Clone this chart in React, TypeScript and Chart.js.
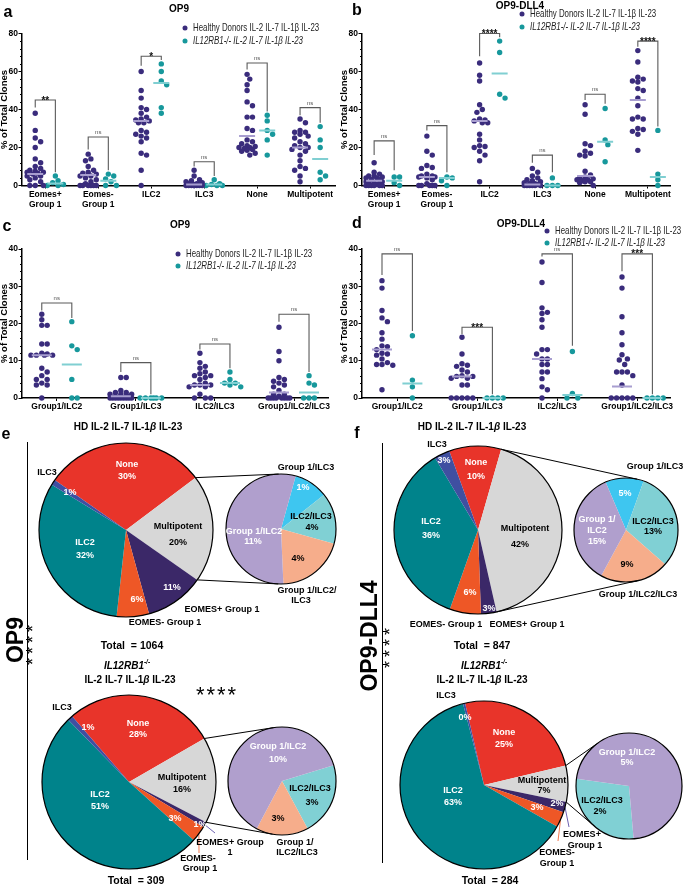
import React, { useEffect, useRef } from "react";
import { Chart, registerables } from "chart.js";
Chart.register(...registerables);

const FONT = "'Liberation Sans', Arial, Helvetica, sans-serif";
const HD_COLOR = "#3a2c7c";
const KO_COLOR = "#17989c";
const HD_MED = "#a89ed0";
const KO_MED = "#80cfd2";
const LEG_HD = "Healthy Donors IL-2 IL-7 IL-1β IL-23";
const LEG_KO = "IL12RB1-/- IL-2 IL-7 IL-1β IL-23";

// ---------------- panel a : OP9 ----------------
const A_CATS: any[] = [["Eomes+", "Group 1"], ["Eomes-", "Group 1"], "ILC2", "ILC3", "None", "Multipotent"];
const A_HD = [
  [38, 29, 25, 23, 20, 14, 12, 10, 9, 8, 7.5, 7, 7, 6.5, 6, 5, 5, 4, 3, 2, 0, 0, 0],
  [16.5, 14, 13, 10, 8, 7, 6.5, 6, 5, 5, 4, 3, 2, 1, 0, 0, 0, 0, 0, 0],
  [60, 50, 46, 41, 40, 38, 36, 35, 34.5, 34, 33, 33, 29, 28, 27, 26, 25, 23, 17, 16, 8, 0],
  [8, 5, 3, 2.5, 2, 1.5, 1, 1, 0.5, 0.5, 0, 0, 0, 0, 0, 0, 0, 0, 0],
  [58.5, 56, 53, 50, 44, 42, 36, 36, 30, 29, 24, 23, 22, 21, 20.5, 20, 20, 19.5, 19, 18.5, 18, 17, 16],
  [35, 33, 29, 28, 28, 27, 26, 25, 23, 22, 21, 20, 20, 19, 18, 16, 13, 10, 9, 8, 5, 2],
];
const A_KO = [
  [5, 2.5, 1.5, 0.5, 0, 0],
  [6, 5, 3.5, 2, 0, 0],
  [64, 60, 55, 53, 41, 38],
  [3, 1, 0.5, 0, 0, 0],
  [37, 34, 29, 27, 24, 16],
  [31, 24, 20, 7, 5, 3],
];
const A_HD_MED = [6, 5.5, 34, 0.5, 26, 20];
const A_KO_MED = [1, 2.5, 54, 0.5, 29, 14];
const A_SIG = ["**", "ns", "*", "ns", "ns", "ns"];
const A_BR_TOP = [45, 25.5, 68, 12.5, 64.5, 41];
const A_BR_L = [41, 19, 63, 10, 61, 37];
const A_BR_R = [7, 8, 66, 5, 39, 33];

// ---------------- panel b : OP9-DLL4 ----------------
const B_CATS = A_CATS;
const B_HD = [
  [12, 7, 6, 5, 5, 4.5, 4, 4, 3, 3, 2, 2, 1.5, 1, 1, 0.5, 0, 0, 0, 0, 0, 0],
  [26, 18, 16, 10.5, 9.5, 9, 6, 5, 5, 4.5, 4.5, 4, 3, 1, 0, 0, 0, 0, 0],
  [64.5, 58, 55, 42.5, 40, 38.5, 35, 34.5, 34, 33, 33, 27, 24, 21, 20.5, 20, 18, 16, 13, 2],
  [9, 7, 5, 4, 3, 2.5, 2, 1.5, 1, 1, 0.5, 0.5, 0, 0, 0, 0, 0, 0],
  [42.5, 37.5, 22, 21, 18, 17, 16, 15.5, 7.5, 5.5, 4.5, 4, 3.5, 3, 3, 2.5, 2, 2, 1.5, 0],
  [71, 65, 57, 56, 55, 54.5, 51, 50, 46, 42, 36, 35, 35, 30, 29.5, 28.5, 27, 18.5],
];
const B_KO = [
  [4.5, 4.5, 1.5, 0],
  [4.5, 4, 2.5, 0],
  [76, 70, 48, 46],
  [4, 0, 0, 0],
  [40.5, 24, 21.5, 12.5],
  [29, 6, 3, 0],
];
const B_HD_MED = [2.5, 4.5, 34, 0.5, 5, 45];
const B_KO_MED = [2.5, 4, 59, 0, 23, 4.5];
const B_SIG = ["ns", "ns", "****", "ns", "ns", "****"];
const B_BR_TOP = [23.5, 31.5, 80, 16, 48, 76];
const B_BR_L = [16, 29, 68, 12, 45, 73];
const B_BR_R = [8, 7, 78, 7, 43, 31];

// ---------------- panel c : OP9 ----------------
const C_CATS: any[] = ["Group1/ILC2", "Group1/ILC3", "ILC2/ILC3", "Group1/ILC2/ILC3"];
const C_HD = [
  [22.5, 21, 19.5, 19.5, 14.5, 14.5, 12, 11.8, 11.5, 11.5, 11.5, 11.5, 8, 7, 6, 5, 5, 4, 3.5, 3.5, 0],
  [5.5, 5.5, 2, 1.5, 1.5, 1, 1, 1, 0.5, 0.5, 0.5, 0, 0, 0, 0, 0, 0, 0, 0, 0],
  [12, 9.5, 8.5, 8, 7, 6.5, 6, 6, 5.5, 5, 4, 3.5, 3.5, 3.5, 3, 3, 1, 0, 0, 0],
  [19, 12.5, 10, 5.5, 5, 4.5, 4, 3.5, 3, 2, 1, 1, 0.5, 0, 0, 0, 0, 0, 0, 0, 0],
];
const C_KO = [
  [20.5, 14, 13, 5, 0, 0],
  [0, 0, 0, 0, 0, 0],
  [7, 5, 4, 4, 3.5, 3],
  [6, 4, 3.5, 0, 0, 0],
];
const C_HD_MED = [11.5, 0.5, 3.5, 1.5];
const C_KO_MED = [9, 0, 4, 1.5];
const C_SIG = ["ns", "ns", "ns", "ns"];
const C_BR_TOP = [25.5, 9.5, 14.5, 22.5];
const C_BR_L = [23.5, 7, 13, 20.5];
const C_BR_R = [21.5, 1, 8, 7];

// ---------------- panel d : OP9-DLL4 ----------------
const D_CATS = C_CATS;
const D_HD = [
  [31.5, 29.5, 23.5, 21.5, 20.5, 17.5, 15.8, 14, 13.8, 13, 12, 11.8, 11.5, 10.5, 9.5, 9, 9, 8.8, 2.2],
  [16.3, 11.8, 9.2, 8.8, 8.5, 7.5, 7, 6, 5.8, 5.8, 5.3, 5.3, 3.5, 3.5, 0, 0, 0, 0, 0],
  [36.5, 31, 24.2, 23, 22.7, 21, 19, 13, 13, 11.8, 10.5, 10.5, 9, 9, 7, 7, 5.2, 3, 2.2, 0],
  [32.5, 29.5, 21.8, 17.5, 14.3, 11.6, 10.5, 10.2, 9, 7, 7, 7, 6, 3.5, 0, 0, 0, 0, 0],
];
const D_KO = [
  [16.7, 4.8, 3, 0],
  [0, 0, 0, 0],
  [12.5, 1.2, 0, 0],
  [0, 0, 0, 0],
];
const D_HD_MED = [13, 5.8, 10.5, 3.1];
const D_KO_MED = [3.9, 0, 0.8, 0];
const D_SIG = ["ns", "***", "ns", "***"];
const D_BR_TOP = [38.7, 19, 38.7, 38.7];
const D_BR_L = [33, 17.2, 38, 34];
const D_BR_R = [18, 1, 14, 1];

// ---------------- pies ----------------
const BIG_NAMES = ["None", "Multipotent", "EOMES+ Group 1", "EOMES- Group 1", "ILC2", "ILC3"];
const E_TOP_PCT = [30, 20, 11, 6, 32, 1];
const E_TOP_SUB_NAMES = ["Group 1/ILC3", "ILC2/ILC3", "Group 1/ILC2/ILC3", "Group 1/ILC2"];
const E_TOP_SUB_PCT = [1, 4, 4, 11];
const E_TOP_SUB_SIZE = [2, 3, 4, 11];

const E_BOT_PCT = [28, 16, 1, 3, 51, 1];
const E_BOT_SUB_NAMES = ["ILC2/ILC3", "Group 1/ILC2/ILC3", "Group 1/ILC2"];
const E_BOT_SUB_PCT = [3, 3, 10];
const E_BOT_SUB_SIZE = [3.5, 2.5, 10];

const F_TOP_PCT = [10, 42, 3, 6, 36, 3];
const F_TOP_SUB_NAMES = ["Group 1/ILC3", "ILC2/ILC3", "Group 1/ILC2/ILC3", "Group 1/ILC2"];
const F_TOP_SUB_PCT = [5, 13, 9, 15];

const F_BOT_PCT = [25, 7, 2, 3, 63, 0];
const F_BOT_SIZE = [25, 7, 2, 3, 63, 0.4];
const F_BOT_SUB_NAMES = ["ILC2/ILC3", "Group 1/ILC2"];
const F_BOT_SUB_PCT = [2, 5];

const TOTALS = [1064, 309, 847, 284];

const COLORS: Record<string, string> = {
  "None": "#e8342a",
  "Multipotent": "#d7d7d7",
  "EOMES+ Group 1": "#3b2868",
  "EOMES- Group 1": "#ee5726",
  "ILC2": "#00838b",
  "ILC3": "#3f4fa1",
  "Group 1/ILC2": "#b09fcd",
  "Group 1/ILC3": "#3ec6f0",
  "ILC2/ILC3": "#80d0d4",
  "Group 1/ILC2/ILC3": "#f6ad8b",
};

const DOT_R = 2.7;

function swarm(vals: number[], pxX: number, pxY: number, d: number, maxW: number): number[] {
  const order = vals.map((_, i) => i).sort((a, b) => vals[b] - vals[a]);
  const placed: number[][] = [];
  const out = vals.map(() => 0);
  const h = d / 2;
  for (const i of order) {
    const y = vals[i] * pxY;
    let best = 0;
    let bestScore = -1;
    for (let k = 0; k < 200; k++) {
      const m = Math.ceil(k / 2) * (k % 2 ? 1 : -1);
      const c = m * h;
      if (Math.abs(c) > maxW) break;
      let md = Infinity;
      for (const p of placed) md = Math.min(md, Math.hypot(p[0] - c, p[1] - y));
      if (md >= d * 0.97) { best = c; break; }
      if (md > bestScore) { bestScore = md; best = c; }
    }
    placed.push([best, y]);
    out[i] = best / pxX;
  }
  return out;
}

type Spec = any;

const SPECS: Spec[] = [
  { cats: A_CATS, hd: A_HD, ko: A_KO, hdMed: A_HD_MED, koMed: A_KO_MED, sig: A_SIG, brTop: A_BR_TOP, brL: A_BR_L, brR: A_BR_R,
    ymax: 80, major: 20, minor: 4, xmin: -0.44, xmax: 5.47, off: 0.19,
    canvas: { l: 0, t: 0, w: 340, h: 212 }, area: { l: 22, r: 335, t: 33.5, b: 185.5 }, legend: { x: 185, y1: 28, y2: 41 }, medHalf: 8, swarmMax: 9 },
  { cats: B_CATS, hd: B_HD, ko: B_KO, hdMed: B_HD_MED, koMed: B_KO_MED, sig: B_SIG, brTop: B_BR_TOP, brL: B_BR_L, brR: B_BR_R,
    ymax: 80, major: 20, minor: 4, xmin: -0.42, xmax: 5.42, off: 0.19,
    canvas: { l: 340, t: 0, w: 345, h: 212 }, area: { l: 22, r: 330, t: 33.5, b: 185.5 }, legend: { x: 182, y1: 14, y2: 27 }, medHalf: 8, swarmMax: 9 },
  { cats: C_CATS, hd: C_HD, ko: C_KO, hdMed: C_HD_MED, koMed: C_KO_MED, sig: C_SIG, brTop: C_BR_TOP, brL: C_BR_L, brR: C_BR_R,
    ymax: 40, major: 10, minor: 2, xmin: -0.44, xmax: 3.43, off: 0.19,
    canvas: { l: 0, t: 212, w: 340, h: 200 }, area: { l: 22, r: 328, t: 37, b: 186 }, legend: { x: 178, y1: 42, y2: 54 }, medHalf: 10, swarmMax: 12 },
  { cats: D_CATS, hd: D_HD, ko: D_KO, hdMed: D_HD_MED, koMed: D_KO_MED, sig: D_SIG, brTop: D_BR_TOP, brL: D_BR_L, brR: D_BR_R,
    ymax: 40, major: 10, minor: 2, xmin: -0.44, xmax: 3.41, off: 0.19,
    canvas: { l: 340, t: 212, w: 345, h: 200 }, area: { l: 22, r: 330, t: 37, b: 186 }, legend: { x: 207, y1: 19, y2: 31 }, medHalf: 10, swarmMax: 12 },
];

function makeScatter(cv: HTMLCanvasElement, sp: Spec) {
  const { area, canvas } = sp;
  const pxX = (area.r - area.l) / (sp.xmax - sp.xmin);
  const pxY = (area.b - area.t) / sp.ymax;
  const pts = (groups: number[][], sign: number) => {
    const out: any[] = [];
    groups.forEach((vals, i) => {
      const offs = swarm(vals, pxX, pxY, DOT_R * 2, sp.swarmMax);
      vals.forEach((v, j) => out.push({ x: i + sign * sp.off + offs[j], y: v }));
    });
    return out;
  };
  const meds = (m: number[], sign: number) => {
    const out: any[] = [];
    const hw = sp.medHalf / pxX;
    m.forEach((v, i) => {
      const c = i + sign * sp.off;
      out.push({ x: c - hw, y: v }, { x: c + hw, y: v }, { x: c + hw, y: null });
    });
    return out;
  };
  const decor = {
    id: "decor",
    afterDatasetsDraw(chart: any) {
      const ctx = chart.ctx;
      const xs = chart.scales.x;
      const ys = chart.scales.y;
      const left = chart.chartArea.left;
      ctx.save();
      ctx.strokeStyle = "#000";
      ctx.lineWidth = 1;
      for (let v = 0; v <= sp.ymax + 1e-9; v += sp.minor) {
        const q = v / sp.major;
        if (Math.abs(q - Math.round(q)) < 1e-6) continue;
        const y = Math.round(ys.getPixelForValue(v)) + 0.5;
        ctx.beginPath();
        ctx.moveTo(left - 2, y);
        ctx.lineTo(left, y);
        ctx.stroke();
      }
      ctx.strokeStyle = "#5a5a5a";
      ctx.lineWidth = 1.1;
      sp.sig.forEach((lab: string, i: number) => {
        const xl = xs.getPixelForValue(i - sp.off);
        const xr = xs.getPixelForValue(i + sp.off);
        const yt = ys.getPixelForValue(sp.brTop[i]);
        ctx.beginPath();
        ctx.moveTo(xl, ys.getPixelForValue(sp.brL[i]));
        ctx.lineTo(xl, yt);
        ctx.lineTo(xr, yt);
        ctx.lineTo(xr, ys.getPixelForValue(sp.brR[i]));
        ctx.stroke();
        ctx.textAlign = "center";
        ctx.textBaseline = "alphabetic";
        if (lab === "ns") {
          ctx.fillStyle = "#555";
          ctx.font = `6px ${FONT}`;
          ctx.fillText(lab, (xl + xr) / 2, yt - 3);
        } else {
          ctx.fillStyle = "#111";
          ctx.font = `bold 10px ${FONT}`;
          ctx.fillText(lab, (xl + xr) / 2, yt + 3.5);
        }
      });
      const L = sp.legend;
      const rows = [
        { y: L.y1, c: HD_COLOR, t: LEG_HD, it: false },
        { y: L.y2, c: KO_COLOR, t: LEG_KO, it: true },
      ];
      rows.forEach((r) => {
        ctx.fillStyle = r.c;
        ctx.beginPath();
        ctx.arc(L.x, r.y, 2.5, 0, Math.PI * 2);
        ctx.fill();
        ctx.save();
        ctx.translate(L.x + 8, r.y);
        ctx.scale(0.75, 1);
        ctx.font = `${r.it ? "italic " : ""}10.5px ${FONT}`;
        ctx.textAlign = "left";
        ctx.textBaseline = "middle";
        ctx.fillStyle = "#222";
        ctx.fillText(r.t, 0, 0);
        ctx.restore();
      });
      ctx.restore();
    },
  };
  const tickFont = { family: FONT, size: 8.5, weight: "bold" as any };
  return new Chart(cv, {
    type: "scatter",
    data: {
      datasets: [
        { type: "line", data: meds(sp.hdMed, -1), borderColor: HD_MED, borderWidth: 2, pointRadius: 0, pointHitRadius: 0, clip: false, order: 0, spanGaps: false } as any,
        { type: "line", data: meds(sp.koMed, 1), borderColor: KO_MED, borderWidth: 2, pointRadius: 0, pointHitRadius: 0, clip: false, order: 0, spanGaps: false } as any,
        { data: pts(sp.hd, -1), pointBackgroundColor: HD_COLOR, backgroundColor: HD_COLOR, pointRadius: DOT_R, pointBorderWidth: 0, clip: false, order: 1 } as any,
        { data: pts(sp.ko, 1), pointBackgroundColor: KO_COLOR, backgroundColor: KO_COLOR, pointRadius: DOT_R, pointBorderWidth: 0, clip: false, order: 1 } as any,
      ],
    },
    options: {
      animation: false,
      responsive: false,
      maintainAspectRatio: false,
      events: [],
      layout: { padding: { left: 0, top: area.t, right: canvas.w - area.r, bottom: 0 } },
      plugins: { legend: { display: false }, tooltip: { enabled: false } },
      scales: {
        x: {
          type: "linear",
          min: sp.xmin,
          max: sp.xmax,
          afterBuildTicks: (s: any) => { s.ticks = sp.cats.map((_: any, i: number) => ({ value: i })); },
          afterFit: (s: any) => { s.height = canvas.h - area.b; },
          ticks: { callback: (v: any) => sp.cats[v], color: "#000", font: tickFont, maxRotation: 0, autoSkip: false, padding: 1 },
          grid: { drawOnChartArea: false, drawTicks: true, tickLength: 3, color: "#000", lineWidth: 1 },
          border: { color: "#000", width: 1.5 },
        } as any,
        y: {
          min: 0,
          max: sp.ymax,
          afterFit: (s: any) => { s.width = area.l; },
          ticks: { stepSize: sp.major, color: "#000", font: tickFont, padding: 0.5 },
          grid: { drawOnChartArea: false, drawTicks: true, tickLength: 3.5, color: "#000", lineWidth: 1 },
          border: { color: "#000", width: 1.5 },
          title: { display: true, text: "% of Total Clones", color: "#000", font: { family: FONT, size: 9.5, weight: "bold" as any }, padding: { top: -1.5, bottom: 0 } },
        } as any,
      },
    },
    plugins: [decor],
  });
}

function ScatterPanel({ spec }: { spec: Spec }) {
  const ref = useRef<HTMLCanvasElement>(null);
  useEffect(() => {
    const c = makeScatter(ref.current as HTMLCanvasElement, spec);
    return () => c.destroy();
  }, []);
  return <canvas ref={ref} width={spec.canvas.w} height={spec.canvas.h} style={{ position: "absolute", left: spec.canvas.l, top: spec.canvas.t }} />;
}

// ---------------- pie rows ----------------
const W = "#ffffff";
const K = "#000000";
const pc = (a: number[], i: number) => `${a[i]}%`;

const ROWS: any[] = [
  {
    rect: { l: 0, t: 420, w: 340, h: 220 },
    big: { cx: 126, cy: 530, r: 87, names: BIG_NAMES, values: E_TOP_PCT, rotation: -55 },
    small: { cx: 281, cy: 529, r: 55, names: E_TOP_SUB_NAMES, values: E_TOP_SUB_SIZE, rotation: 15.5 },
    labels: [
      { s: BIG_NAMES[5], x: 47, y: 473, c: K },
      { s: pc(E_TOP_PCT, 5), x: 70, y: 493, c: W },
      { s: BIG_NAMES[0], x: 127, y: 465, c: W },
      { s: pc(E_TOP_PCT, 0), x: 127, y: 477, c: W },
      { s: BIG_NAMES[1], x: 178, y: 527, c: K },
      { s: pc(E_TOP_PCT, 1), x: 178, y: 543, c: K },
      { s: BIG_NAMES[4], x: 85, y: 543, c: W },
      { s: pc(E_TOP_PCT, 4), x: 85, y: 556, c: W },
      { s: pc(E_TOP_PCT, 2), x: 172, y: 588, c: W },
      { s: pc(E_TOP_PCT, 3), x: 137, y: 600, c: W },
      { s: BIG_NAMES[2], x: 222, y: 610, c: K },
      { s: BIG_NAMES[3], x: 165, y: 623, c: K },
      { s: E_TOP_SUB_NAMES[0], x: 306, y: 468, c: K },
      { s: pc(E_TOP_SUB_PCT, 0), x: 303, y: 488, c: W },
      { s: E_TOP_SUB_NAMES[1], x: 311, y: 517, c: K },
      { s: pc(E_TOP_SUB_PCT, 1), x: 312, y: 528, c: K },
      { s: E_TOP_SUB_NAMES[3], x: 254, y: 532, c: W },
      { s: pc(E_TOP_SUB_PCT, 3), x: 253, y: 542, c: W },
      { s: pc(E_TOP_SUB_PCT, 2), x: 298, y: 559, c: K },
      { s: "Group 1/ILC2/", x: 307, y: 591, c: K },
      { s: "ILC3", x: 301, y: 601, c: K },
    ],
    leaders: [],
  },
  {
    rect: { l: 0, t: 640, w: 340, h: 245 },
    big: { cx: 129, cy: 782, r: 87, names: BIG_NAMES, values: E_BOT_PCT, rotation: -40.8 },
    small: { cx: 282, cy: 781, r: 54, names: E_BOT_SUB_NAMES, values: E_BOT_SUB_SIZE, rotation: 73 },
    labels: [
      { s: BIG_NAMES[5], x: 62, y: 708, c: K },
      { s: pc(E_BOT_PCT, 5), x: 88, y: 728, c: W },
      { s: BIG_NAMES[0], x: 138, y: 724, c: W },
      { s: pc(E_BOT_PCT, 0), x: 138, y: 735, c: W },
      { s: BIG_NAMES[1], x: 182, y: 778, c: K },
      { s: pc(E_BOT_PCT, 1), x: 182, y: 790, c: K },
      { s: BIG_NAMES[4], x: 100, y: 795, c: W },
      { s: pc(E_BOT_PCT, 4), x: 100, y: 807, c: W },
      { s: pc(E_BOT_PCT, 3), x: 175, y: 819, c: W },
      { s: pc(E_BOT_PCT, 2), x: 200, y: 825, c: W },
      { s: "EOMES+ Group", x: 230, y: 843, c: K },
      { s: "1", x: 230, y: 853, c: K },
      { s: "EOMES-", x: 198, y: 859, c: K },
      { s: "Group 1", x: 200, y: 869, c: K },
      { s: E_BOT_SUB_NAMES[2], x: 278, y: 747, c: W },
      { s: pc(E_BOT_SUB_PCT, 2), x: 278, y: 760, c: W },
      { s: E_BOT_SUB_NAMES[0], x: 310, y: 789, c: K },
      { s: pc(E_BOT_SUB_PCT, 0), x: 312, y: 803, c: K },
      { s: pc(E_BOT_SUB_PCT, 1), x: 278, y: 819, c: K },
      { s: "Group 1/", x: 295, y: 843, c: K },
      { s: "ILC2/ILC3", x: 297, y: 853, c: K },
    ],
    leaders: [
      { i: 2, tx: 215, ty: 833, c: "#5c4fa8" },
      { i: 3, tx: 199, ty: 853, c: "#ef6a3c" },
    ],
  },
  {
    rect: { l: 340, t: 420, w: 345, h: 220 },
    big: { cx: 478, cy: 530, r: 84, names: BIG_NAMES, values: F_TOP_PCT, rotation: -20 },
    small: { cx: 626, cy: 530, r: 52, names: F_TOP_SUB_NAMES, values: F_TOP_SUB_PCT, rotation: -23 },
    labels: [
      { s: BIG_NAMES[5], x: 437, y: 445, c: K },
      { s: pc(F_TOP_PCT, 5), x: 444, y: 461, c: W },
      { s: BIG_NAMES[0], x: 476, y: 463, c: W },
      { s: pc(F_TOP_PCT, 0), x: 476, y: 477, c: W },
      { s: BIG_NAMES[1], x: 525, y: 529, c: K },
      { s: pc(F_TOP_PCT, 1), x: 520, y: 545, c: K },
      { s: BIG_NAMES[4], x: 431, y: 522, c: W },
      { s: pc(F_TOP_PCT, 4), x: 431, y: 536, c: W },
      { s: pc(F_TOP_PCT, 3), x: 470, y: 593, c: W },
      { s: pc(F_TOP_PCT, 2), x: 489, y: 609, c: W },
      { s: BIG_NAMES[3], x: 446, y: 625, c: K },
      { s: BIG_NAMES[2], x: 527, y: 625, c: K },
      { s: F_TOP_SUB_NAMES[0], x: 655, y: 467, c: K },
      { s: pc(F_TOP_SUB_PCT, 0), x: 625, y: 494, c: W },
      { s: F_TOP_SUB_NAMES[1], x: 653, y: 522, c: K },
      { s: pc(F_TOP_SUB_PCT, 1), x: 653, y: 532, c: K },
      { s: "Group 1/", x: 597, y: 520, c: W },
      { s: "ILC2", x: 597, y: 531, c: W },
      { s: pc(F_TOP_SUB_PCT, 3), x: 597, y: 542, c: W },
      { s: pc(F_TOP_SUB_PCT, 2), x: 627, y: 565, c: K },
      { s: F_TOP_SUB_NAMES[2], x: 638, y: 595, c: K },
    ],
    leaders: [],
  },
  {
    rect: { l: 340, t: 640, w: 345, h: 245 },
    big: { cx: 484, cy: 785, r: 84, names: BIG_NAMES, values: F_BOT_SIZE, rotation: -13 },
    small: { cx: 629, cy: 786, r: 53, names: F_BOT_SUB_NAMES, values: F_BOT_SUB_PCT, rotation: 175 },
    labels: [
      { s: BIG_NAMES[5], x: 446, y: 696, c: K },
      { s: pc(F_BOT_PCT, 5), x: 465, y: 718, c: W },
      { s: BIG_NAMES[0], x: 504, y: 733, c: W },
      { s: pc(F_BOT_PCT, 0), x: 504, y: 745, c: W },
      { s: BIG_NAMES[1], x: 542, y: 781, c: K },
      { s: pc(F_BOT_PCT, 1), x: 544, y: 791, c: K },
      { s: BIG_NAMES[4], x: 453, y: 791, c: W },
      { s: pc(F_BOT_PCT, 4), x: 453, y: 803, c: W },
      { s: pc(F_BOT_PCT, 3), x: 537, y: 808, c: W },
      { s: pc(F_BOT_PCT, 2), x: 557, y: 804, c: W },
      { s: "EOMES+", x: 582, y: 835, c: K },
      { s: "Group 1", x: 585, y: 846, c: K },
      { s: "EOMES-", x: 557, y: 853, c: K },
      { s: "Group 1", x: 557, y: 864, c: K },
      { s: F_BOT_SUB_NAMES[1], x: 627, y: 753, c: W },
      { s: pc(F_BOT_SUB_PCT, 1), x: 627, y: 763, c: W },
      { s: F_BOT_SUB_NAMES[0], x: 602, y: 801, c: K },
      { s: pc(F_BOT_SUB_PCT, 0), x: 600, y: 812, c: K },
    ],
    leaders: [
      { i: 2, tx: 569, ty: 827, c: "#5c4fa8" },
      { i: 3, tx: 558, ty: 841, c: "#ef6a3c" },
    ],
  },
];

function makePie(cv: HTMLCanvasElement, rect: any, p: any, plugins: any[] = []) {
  return new Chart(cv, {
    type: "pie",
    data: {
      labels: p.names,
      datasets: [{ data: p.values, backgroundColor: p.names.map((n: string) => COLORS[n]), borderWidth: 0, hoverOffset: 0, offset: 0, hoverBorderWidth: 0 } as any],
    },
    options: {
      animation: false,
      responsive: false,
      maintainAspectRatio: false,
      events: [],
      rotation: p.rotation,
      layout: {
        padding: {
          left: p.cx - p.r - rect.l,
          top: p.cy - p.r - rect.t,
          right: rect.l + rect.w - (p.cx + p.r),
          bottom: rect.t + rect.h - (p.cy + p.r),
        },
      },
      plugins: { legend: { display: false }, tooltip: { enabled: false } },
    } as any,
    plugins,
  });
}

function tangent(px: number, py: number, cx: number, cy: number, r: number, sgn: number) {
  const dx = px - cx;
  const dy = py - cy;
  const d = Math.hypot(dx, dy);
  const dir = Math.atan2(dy, dx);
  const al = Math.acos(Math.min(1, r / d));
  const a = dir + sgn * al;
  return [cx + r * Math.cos(a), cy + r * Math.sin(a)];
}

function rowDecor(big: any, row: any) {
  return {
    id: "rowdecor",
    afterDraw(chart: any) {
      const ctx = chart.ctx;
      const b: any = big.getDatasetMeta(0).data;
      const s: any = chart.getDatasetMeta(0).data;
      const bx = b[0].x, by = b[0].y, br = b[0].outerRadius;
      const sx = s[0].x, sy = s[0].y, sr = s[0].outerRadius;
      ctx.save();
      row.leaders.forEach((l: any) => {
        const arc = b[l.i];
        const a = (arc.startAngle + arc.endAngle) / 2;
        ctx.strokeStyle = l.c;
        ctx.lineWidth = 0.9;
        ctx.beginPath();
        ctx.moveTo(bx + br * Math.cos(a), by + br * Math.sin(a));
        ctx.lineTo(l.tx - row.rect.l, l.ty - row.rect.t);
        ctx.stroke();
      });
      ctx.strokeStyle = "#000";
      ctx.lineWidth = 1.2;
      ctx.beginPath();
      ctx.arc(bx, by, br, 0, Math.PI * 2);
      ctx.stroke();
      ctx.beginPath();
      ctx.arc(sx, sy, sr, 0, Math.PI * 2);
      ctx.stroke();
      const mp = b[1];
      const p1 = [bx + br * Math.cos(mp.startAngle), by + br * Math.sin(mp.startAngle)];
      const p2 = [bx + br * Math.cos(mp.endAngle), by + br * Math.sin(mp.endAngle)];
      const t1 = tangent(p1[0], p1[1], sx, sy, sr, 1);
      const t2 = tangent(p2[0], p2[1], sx, sy, sr, -1);
      ctx.lineWidth = 1;
      ctx.beginPath();
      ctx.moveTo(p1[0], p1[1]);
      ctx.lineTo(t1[0], t1[1]);
      ctx.moveTo(p2[0], p2[1]);
      ctx.lineTo(t2[0], t2[1]);
      ctx.stroke();
      ctx.font = `bold 9px ${FONT}`;
      ctx.textAlign = "center";
      ctx.textBaseline = "middle";
      row.labels.forEach((l: any) => {
        ctx.fillStyle = l.c;
        ctx.fillText(l.s, l.x - row.rect.l, l.y - row.rect.t);
      });
      ctx.restore();
    },
  };
}

function PieRow({ row }: { row: any }) {
  const bigRef = useRef<HTMLCanvasElement>(null);
  const smallRef = useRef<HTMLCanvasElement>(null);
  useEffect(() => {
    const big = makePie(bigRef.current as HTMLCanvasElement, row.rect, row.big);
    const small = makePie(smallRef.current as HTMLCanvasElement, row.rect, row.small, [rowDecor(big, row)]);
    return () => {
      small.destroy();
      big.destroy();
    };
  }, []);
  const st: any = { position: "absolute", left: row.rect.l, top: row.rect.t };
  return (
    <>
      <canvas ref={bigRef} width={row.rect.w} height={row.rect.h} style={st} />
      <canvas ref={smallRef} width={row.rect.w} height={row.rect.h} style={st} />
    </>
  );
}

function T({ x, y, s = 10, b = true, it = false, rot = 0, ls = 0, children }: any) {
  return (
    <div
      style={{
        position: "absolute",
        left: x,
        top: y,
        transform: `translate(-50%, -50%) rotate(${rot}deg)`,
        fontFamily: FONT,
        fontSize: s,
        fontWeight: b ? "bold" : "normal",
        fontStyle: it ? "italic" : "normal",
        whiteSpace: "nowrap",
        lineHeight: 1,
        letterSpacing: ls,
        color: "#000",
      }}
    >
      {children}
    </div>
  );
}

const Sup = () => <span style={{ fontSize: 6.5, verticalAlign: "super", fontStyle: "italic" }}>-/-</span>;

export default function App() {
  return (
    <div style={{ position: "absolute", left: 0, top: 0, width: 685, height: 885, background: "#fff", overflow: "hidden" }}>
      {SPECS.map((s, i) => <ScatterPanel key={"s" + i} spec={s} />)}
      {ROWS.map((r, i) => <PieRow key={"r" + i} row={r} />)}

      <T x={8} y={12} s={16}>a</T>
      <T x={357} y={10} s={16}>b</T>
      <T x={7} y={226} s={16}>c</T>
      <T x={357} y={223} s={16}>d</T>
      <T x={6} y={434} s={16}>e</T>
      <T x={357} y={433} s={16}>f</T>

      <T x={179} y={9}>OP9</T>
      <T x={520} y={6}>OP9-DLL4</T>
      <T x={180} y={225}>OP9</T>
      <T x={521} y={224}>OP9-DLL4</T>

      <T x={128} y={427}>HD IL-2 IL-7 IL-1<i>β</i> IL-23</T>
      <T x={472} y={427}>HD IL-2 IL-7 IL-1<i>β</i> IL-23</T>
      <T x={132} y={645} s={10.5}>Total&nbsp;&nbsp;= {TOTALS[0]}</T>
      <T x={136} y={880} s={10.5}>Total&nbsp;&nbsp;= {TOTALS[1]}</T>
      <T x={482} y={645} s={10.5}>Total&nbsp;&nbsp;= {TOTALS[2]}</T>
      <T x={490} y={880} s={10.5}>Total&nbsp;&nbsp;= {TOTALS[3]}</T>

      <T x={127} y={665} it>IL12RB1<Sup /></T>
      <T x={130} y={680}>IL-2 IL-7 IL-1<i>β</i> IL-23</T>
      <T x={484} y={665} it>IL12RB1<Sup /></T>
      <T x={482} y={680}>IL-2 IL-7 IL-1<i>β</i> IL-23</T>
      <T x={217} y={695} s={22} b={false} ls={2}>****</T>

      <div style={{ position: "absolute", left: 27, top: 442, width: 0, height: 418, borderLeft: "1.5px solid #000" }} />
      <div style={{ position: "absolute", left: 382, top: 443, width: 0, height: 420, borderLeft: "1.5px solid #000" }} />
      <T x={15} y={640} s={23} rot={-90}>OP9</T>
      <T x={369} y={636} s={23} rot={-90}>OP9-DLL4</T>
      <T x={33} y={643} s={18} b={false} rot={-90} ls={4}>****</T>
      <T x={390} y={646} s={18} b={false} rot={-90} ls={4}>****</T>
    </div>
  );
}
